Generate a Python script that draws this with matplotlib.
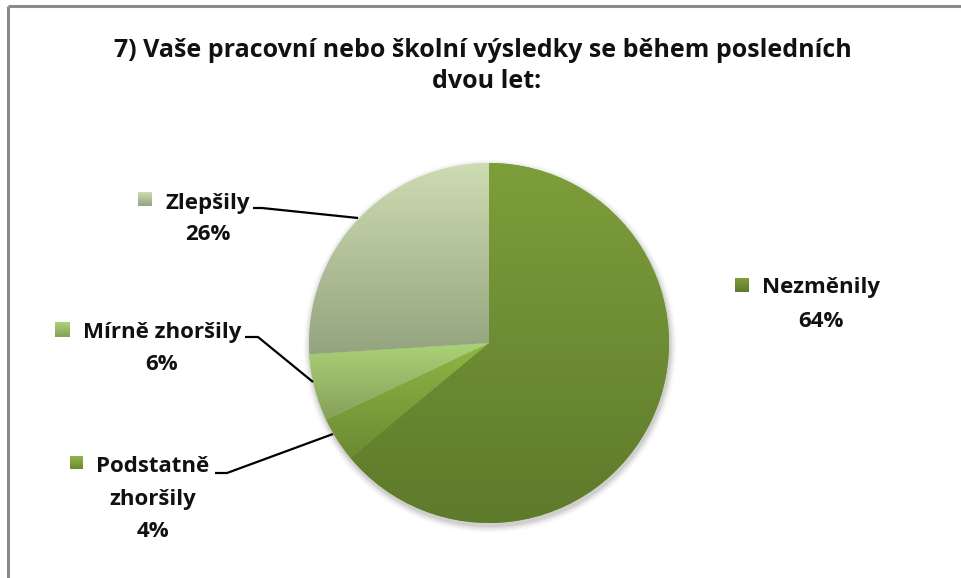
import numpy as np
import matplotlib
matplotlib.use("Agg")
import matplotlib.pyplot as plt
from matplotlib.colors import LinearSegmentedColormap
from matplotlib.patches import Circle

# --- data ---------------------------------------------------------------
categories = ["Nezměnily", "Podstatně zhoršily", "Mírně zhoršily", "Zlepšily"]
shares = [64, 4, 6, 26]
# category names as they are wrapped on the chart
label_lines = [["Nezměnily"], ["Podstatně", "zhoršily"], ["Mírně zhoršily"], ["Zlepšily"]]
title_lines = ["7) Vaše pracovní nebo školní výsledky se během posledních", "dvou let:"]

# top / bottom colours of the vertical gradient in each slice
grad_colors = [
    ("#7e9e3b", "#5e7a2b"),
    ("#8fb646", "#6c8a32"),
    ("#abd277", "#86a05a"),
    ("#cddcb2", "#94a47e"),
]

W, H = 961, 578
FONT = ["Open Sans", "DejaVu Sans"]

fig = plt.figure(figsize=(W / 100, H / 100), dpi=100)
ax = fig.add_axes([0, 0, 1, 1])


def Y(y):
    # pixel row (from top) -> data y
    return H - y


cx, cy, R = 489, Y(343), 180

# soft drop shadow under the pie
for i, a in enumerate(np.linspace(0.05, 0.012, 6)):
    ax.add_patch(Circle((cx + 1, cy - 3), R + 1 + i * 1.2, facecolor="#000000",
                        edgecolor="none", alpha=a, zorder=1))

wedges, _ = ax.pie(shares, center=(cx, cy), radius=R, startangle=90,
                   counterclock=False, wedgeprops=dict(linewidth=0, edgecolor="none"))

for w, (ctop, cbot) in zip(wedges, grad_colors):
    w.set_facecolor(ctop)
    w.set_zorder(2)
    t1, t2 = np.radians(w.theta1), np.radians(w.theta2)
    ts = np.linspace(t1, t2, 200)
    xs = np.concatenate([[cx], cx + R * np.cos(ts)])
    ys = np.concatenate([[cy], cy + R * np.sin(ts)])
    cmap = LinearSegmentedColormap.from_list("g", [cbot, ctop])
    grad = np.linspace(0, 1, 256).reshape(-1, 1)
    im = ax.imshow(grad, cmap=cmap, origin="lower", aspect="auto",
                   extent=(xs.min(), xs.max(), ys.min(), ys.max()),
                   interpolation="bilinear", zorder=3)
    im.set_clip_path(w)

# label placement: (key x, key y, key size), text centre x, baselines of lines
layouts = [
    ((735, 278, 14), 821, [293, 327]),
    ((70, 456, 13), 153, [472, 505, 537]),
    ((55, 322, 15), 162, [338, 370]),
    ((138, 192, 14), 208, [209, 240]),
]

lab_kw = dict(fontsize=16, fontweight="bold", family=FONT, color="#111111",
              ha="center", va="baseline", zorder=5)
for (key, tx, baselines), lines_, share, (ctop, cbot) in zip(
        layouts, label_lines, shares, grad_colors):
    kx, ky, ks = key
    cmap = LinearSegmentedColormap.from_list("k", [cbot, ctop])
    grad = np.linspace(0, 1, 32).reshape(-1, 1)
    ax.imshow(grad, cmap=cmap, origin="lower", aspect="auto",
              extent=(kx, kx + ks, Y(ky + ks), Y(ky)), zorder=4)
    texts = lines_ + [f"{share}%"]
    for txt, by in zip(texts, baselines):
        ax.text(tx, Y(by), txt, **lab_kw)

# leader lines
leaders = [
    [(253, 208), (262, 208), (358, 218)],
    [(245, 337), (258, 337), (313, 382)],
    [(215, 473), (227, 473), (333, 434)],
]
for pts in leaders:
    xs, ys = zip(*pts)
    ax.plot(xs, [Y(v) for v in ys], color="#000000", lw=1.6, zorder=5,
            solid_capstyle="butt")

# title
for txt, tx, by in zip(title_lines, [483, 487], [57, 88]):
    ax.text(tx, Y(by), txt, fontsize=18, fontweight="bold", family=FONT,
            color="#111111", ha="center", va="baseline")

# chart frame (top and left edges visible)
ax.plot([8, W], [Y(6), Y(6)], color="#8a8a8a", lw=2.2, solid_capstyle="butt")
ax.plot([8, 8], [Y(6), 0], color="#8a8a8a", lw=2.2, solid_capstyle="butt")

ax.set_xlim(0, W)
ax.set_ylim(0, H)
ax.set_aspect("auto")
ax.axis("off")

fig.savefig("out.png", dpi=100, facecolor="white")
